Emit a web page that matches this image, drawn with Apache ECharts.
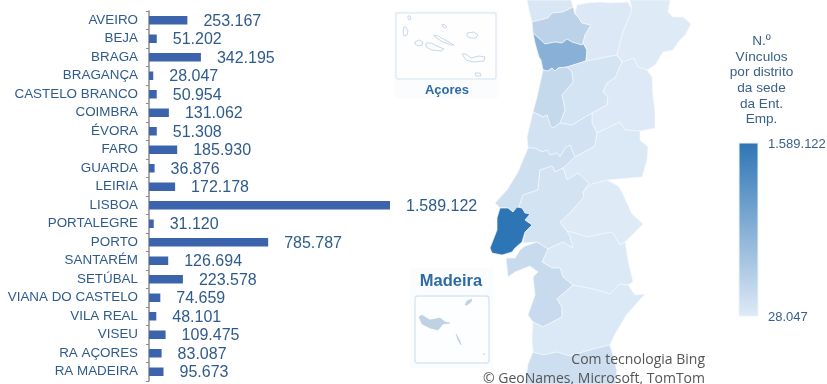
<!DOCTYPE html>
<html><head><meta charset="utf-8">
<style>html,body{margin:0;padding:0;background:#fff;overflow:hidden}#c{width:827px;height:384px}</style>
<script src="https://cdn.jsdelivr.net/npm/echarts@6/dist/echarts.min.js"></script>
</head><body><div id="c"></div>
<script>
const categories = ['AVEIRO','BEJA','BRAGA','BRAGANÇA','CASTELO BRANCO','COIMBRA','ÉVORA','FARO','GUARDA','LEIRIA','LISBOA','PORTALEGRE','PORTO','SANTARÉM','SETÚBAL','VIANA DO CASTELO','VILA REAL','VISEU','RA AÇORES','RA MADEIRA'];
const values = [253167,51202,342195,28047,50954,131062,51308,185930,36876,172178,1589122,31120,785787,126694,223578,74659,48101,109475,83087,95673];
const legendTitle = ['N.º','Vínculos','por distrito','da sede','da Ent.','Emp.'];
const legendLabels = ['1.589.122','28.047'];

/* Map outlines (traced boundaries) */
const districtShapes = {
 'VIANA DO CASTELO':[[527,0],[571,0],[573,7],[563,12],[552,13],[548,18],[532,22],[529,10]],
 'BRAGA':[[532,22],[548,18],[552,13],[563,12],[573,7],[575,14],[579,18],[582,23],[591,25],[585,35],[583,43],[582,45],[572,42],[567,39],[562,43],[555,42],[545,44],[543,42],[533,33]],
 'PORTO':[[533,33],[543,42],[545,44],[555,42],[562,43],[567,39],[572,42],[582,45],[583,43],[587,50],[586,61],[567,67],[558,68],[555,71],[552,68],[548,71],[543,70],[541,60],[539,57],[535,43]],
 'VILA REAL':[[586,61],[587,50],[583,43],[585,35],[591,25],[582,23],[579,18],[575,14],[577,5],[588,3],[600,2],[610,3],[628,2],[632,10],[623,32],[620,43],[617,55]],
 'BRAGANÇA':[[630,0],[670,0],[668,12],[673,17],[683,17],[691,24],[685,35],[678,42],[673,50],[663,52],[655,65],[647,70],[638,67],[634,58],[623,62],[617,55],[620,43],[623,32],[632,10]],
 'VISEU':[[567,67],[586,61],[617,55],[622,62],[615,78],[607,83],[603,92],[608,97],[607,105],[592,113],[572,125],[560,123],[565,110],[562,95],[573,82],[572,72]],
 'AVEIRO':[[543,70],[548,71],[552,68],[555,71],[558,68],[567,67],[572,72],[573,82],[562,95],[565,110],[560,123],[553,128],[550,125],[547,115],[543,117],[533,112],[537,97]],
 'GUARDA':[[617,55],[623,62],[634,58],[638,67],[647,70],[652,77],[653,97],[655,112],[655,128],[640,131],[625,130],[620,122],[597,133],[592,123],[592,113],[607,105],[608,97],[603,92],[607,83],[615,78],[622,62]],
 'COIMBRA':[[533,112],[543,117],[547,115],[550,125],[553,128],[560,123],[572,125],[592,113],[592,123],[597,133],[595,146],[575,157],[570,145],[565,148],[560,157],[557,153],[550,155],[547,150],[542,152],[535,148],[528,148],[527,137]],
 'CASTELO BRANCO':[[575,157],[595,146],[597,133],[620,122],[625,130],[640,131],[640,140],[648,147],[647,160],[642,177],[618,179],[607,180],[592,184],[583,192],[589,183],[578,173],[567,180],[563,168]],
 'LEIRIA':[[528,148],[535,148],[542,152],[547,150],[550,155],[557,153],[560,157],[565,148],[570,145],[575,157],[563,168],[555,172],[552,166],[540,170],[538,190],[523,195],[519,207],[513,212],[508,208],[500,208],[495,203],[507,190],[518,172]],
 'SANTARÉM':[[540,170],[552,166],[555,172],[563,168],[567,180],[578,173],[589,183],[583,192],[584,197],[570,213],[560,222],[567,231],[570,236],[573,248],[563,242],[548,249],[537,242],[523,243],[525,232],[532,225],[525,220],[530,214],[525,213],[522,208],[519,207],[523,195],[538,190]],
 'LISBOA':[[500,208],[508,208],[513,212],[517,207],[522,208],[525,213],[530,214],[525,220],[532,225],[525,232],[522,242],[515,248],[512,252],[502,255],[492,253],[490,248],[497,230],[497,218]],
 'PORTALEGRE':[[583,192],[592,184],[607,180],[618,186],[622,192],[632,214],[643,224],[637,230],[625,242],[620,245],[612,232],[587,237],[575,233],[567,231],[560,222],[570,213],[584,197]],
 'ÉVORA':[[548,249],[563,242],[573,248],[570,236],[567,231],[575,233],[587,237],[612,232],[620,245],[625,242],[628,260],[633,282],[628,285],[620,284],[610,294],[593,289],[573,285],[563,277],[560,268],[552,268],[542,262]],
 'SETÚBAL':[[525,246],[537,242],[548,249],[542,262],[552,268],[560,268],[563,277],[573,285],[557,299],[562,307],[562,317],[543,327],[533,322],[528,315],[535,295],[533,277],[538,272],[530,266],[515,272],[508,277],[506,258],[515,258],[520,250]],
 'BEJA':[[573,285],[593,289],[610,294],[620,284],[628,285],[635,295],[645,294],[627,314],[615,334],[610,345],[593,349],[570,356],[557,352],[543,355],[533,352],[532,339],[533,322],[543,327],[562,317],[562,307],[557,299]],
 'FARO':[[533,352],[543,355],[557,352],[570,356],[593,349],[610,345],[617,371],[615,384],[525,384],[528,364]]
};
const azoresShapes = {
 Corvo:[[408,16],[410,16],[411,18],[410,20],[408,19]],
 Flores:[[404,27],[406,27],[408,31],[407,35],[404,36],[403,32]],
 Faial:[[415,42],[419,40],[423,42],[422,45],[418,46],[415,44]],
 Pico:[[426,43],[431,43],[437,46],[444,49],[441,51],[432,50],[426,47]],
 SaoJorge:[[434,35],[438,36],[447,41],[454,45],[451,45],[443,42],[435,37]],
 Graciosa:[[442,24],[445,25],[447,27],[445,28],[443,27]],
 Terceira:[[467,33],[474,32],[478,35],[476,38],[470,38],[467,36]],
 SaoMiguel:[[462,54],[466,54],[471,58],[479,56],[485,57],[484,61],[473,62],[466,60]],
 SantaMaria:[[475,73],[480,73],[481,76],[476,76]]
};
const madeiraShapes = {
 Madeira:[[419,317],[422,315],[425,317],[430,320],[440,318],[445,322],[450,323],[443,324],[438,330],[430,328],[422,324]],
 PortoSanto:[[465,305],[467,301],[472,299],[471,302],[467,305]],
 Desertas:[[456,334],[457,334],[460,341],[461,345],[460,345],[458,340]],
 Selvagens:[[484,353],[485,354],[484,355]]
};

function toGeo(shapes){
  let x0=1e9,x1=-1e9,y0=1e9,y1=-1e9;
  const features=Object.keys(shapes).map(function(name){
    const ring=shapes[name].map(function(p){
      x0=Math.min(x0,p[0]);x1=Math.max(x1,p[0]);y0=Math.min(y0,p[1]);y1=Math.max(y1,p[1]);
      return [p[0],-p[1]];
    });
    ring.push(ring[0]);
    return {type:'Feature',properties:{name:name},geometry:{type:'Polygon',coordinates:[ring]}};
  });
  return {geo:{type:'FeatureCollection',features:features},box:{left:x0,top:y0,width:x1-x0,height:y1-y0}};
}
const pt=toGeo(districtShapes), az=toGeo(azoresShapes), ma=toGeo(madeiraShapes);
echarts.registerMap('pt',pt.geo); echarts.registerMap('az',az.geo); echarts.registerMap('ma',ma.geo);

const districtData=categories.map(function(n,i){return {name:n,value:values[i]};}).filter(function(d){return districtShapes[d.name];});
const fmt=function(v){return String(v).replace(/\B(?=(\d{3})+$)/g,'.');};
function mapSeries(name,g,style){
  return Object.assign({type:'map',map:name,roam:false,aspectScale:1,silent:true,selectedMode:false,
    label:{show:false},emphasis:{disabled:true},itemStyle:style},g.box);
}
const blue='#2f5b8c', low='#deeaf6', high='#2e75b6';
const chart=echarts.init(document.getElementById('c'),null,{renderer:'canvas'});
chart.setOption({
  animation:false,
  backgroundColor:'#fff',
  grid:{left:149,top:11,width:241,height:370,containLabel:false},
  xAxis:{type:'value',min:0,max:Math.max.apply(null,values),show:false},
  yAxis:{type:'category',data:categories,inverse:true,
    axisLine:{show:true,lineStyle:{color:'#8c8c8c',width:1.5}},
    axisTick:{show:true,length:3,lineStyle:{color:'#8c8c8c'}},
    axisLabel:{color:blue,fontFamily:'Liberation Sans',fontSize:13.4,margin:11,interval:0},
    splitLine:{show:false}},
  visualMap:{type:'continuous',show:false,seriesIndex:1,min:Math.min.apply(null,values),max:Math.max.apply(null,values),
    inRange:{color:[low,high]}},
  graphic:[
    {type:'rect',shape:{x:394,y:11,width:104,height:87},style:{fill:'#fafcfe'},silent:true},
    {type:'rect',shape:{x:396,y:13,width:100,height:66,r:2},style:{fill:'#fefeff',stroke:'#e2ebf5',lineWidth:1.5},silent:true},
    {type:'text',style:{x:447,y:90,text:'Açores',align:'center',verticalAlign:'middle',font:'bold 13px "Liberation Sans"',fill:'#2e6ba3'},silent:true},
    {type:'rect',shape:{x:410,y:268,width:83,height:100},style:{fill:'#fafcfe'},silent:true},
    {type:'rect',shape:{x:415,y:296,width:74,height:67,r:3},style:{fill:'#fdfeff',stroke:'#dae6f2',lineWidth:1.5},silent:true},
    {type:'text',style:{x:451,y:281,text:'Madeira',align:'center',verticalAlign:'middle',font:'bold 16.5px "Liberation Sans"',fill:'#2e6ba3'},silent:true},
    {type:'rect',shape:{x:739,y:143,width:19,height:173},silent:true,
      style:{stroke:'#edf3f9',lineWidth:1,fill:{type:'linear',x:0,y:0,x2:0,y2:1,colorStops:[{offset:0,color:high},{offset:1,color:low}]}}},
    {type:'text',style:{x:761.5,y:80.5,text:legendTitle.join('\n'),align:'center',verticalAlign:'middle',lineHeight:15.6,font:'13.6px "Liberation Sans"',fill:'#3b6089'},silent:true},
    {type:'text',style:{x:768,y:144,text:legendLabels[0],align:'left',verticalAlign:'middle',font:'13px "Liberation Sans"',fill:'#3b6089'},silent:true},
    {type:'text',style:{x:768,y:317,text:legendLabels[1],align:'left',verticalAlign:'middle',font:'13px "Liberation Sans"',fill:'#3b6089'},silent:true},
    {type:'text',z:10,style:{x:705,y:360,text:'Com tecnologia Bing',align:'right',verticalAlign:'middle',font:'14px "Open Sans"',fill:'#555'},silent:true},
    {type:'text',z:10,style:{x:705,y:379,text:'© GeoNames, Microsoft, TomTom',align:'right',verticalAlign:'middle',font:'14px "Open Sans"',fill:'#555'},silent:true}
  ],
  series:[
    {type:'bar',data:values,barWidth:8.5,silent:true,itemStyle:{color:'#3b64ad'},
      label:{show:true,position:'right',distance:16,offset:[0,1],color:blue,fontFamily:'Liberation Sans',fontSize:16,
        formatter:function(p){return fmt(p.value);}}},
    Object.assign(mapSeries('pt',pt,{borderColor:'#f4f8fc',borderWidth:.7}),{data:districtData}),
    mapSeries('az',az,{areaColor:'#fbfdff',borderColor:'#c9d8e6',borderWidth:1}),
    mapSeries('ma',ma,{areaColor:'#bfd2e3',borderColor:'#b4c9dd',borderWidth:.5})
  ]
});
</script></body></html>
